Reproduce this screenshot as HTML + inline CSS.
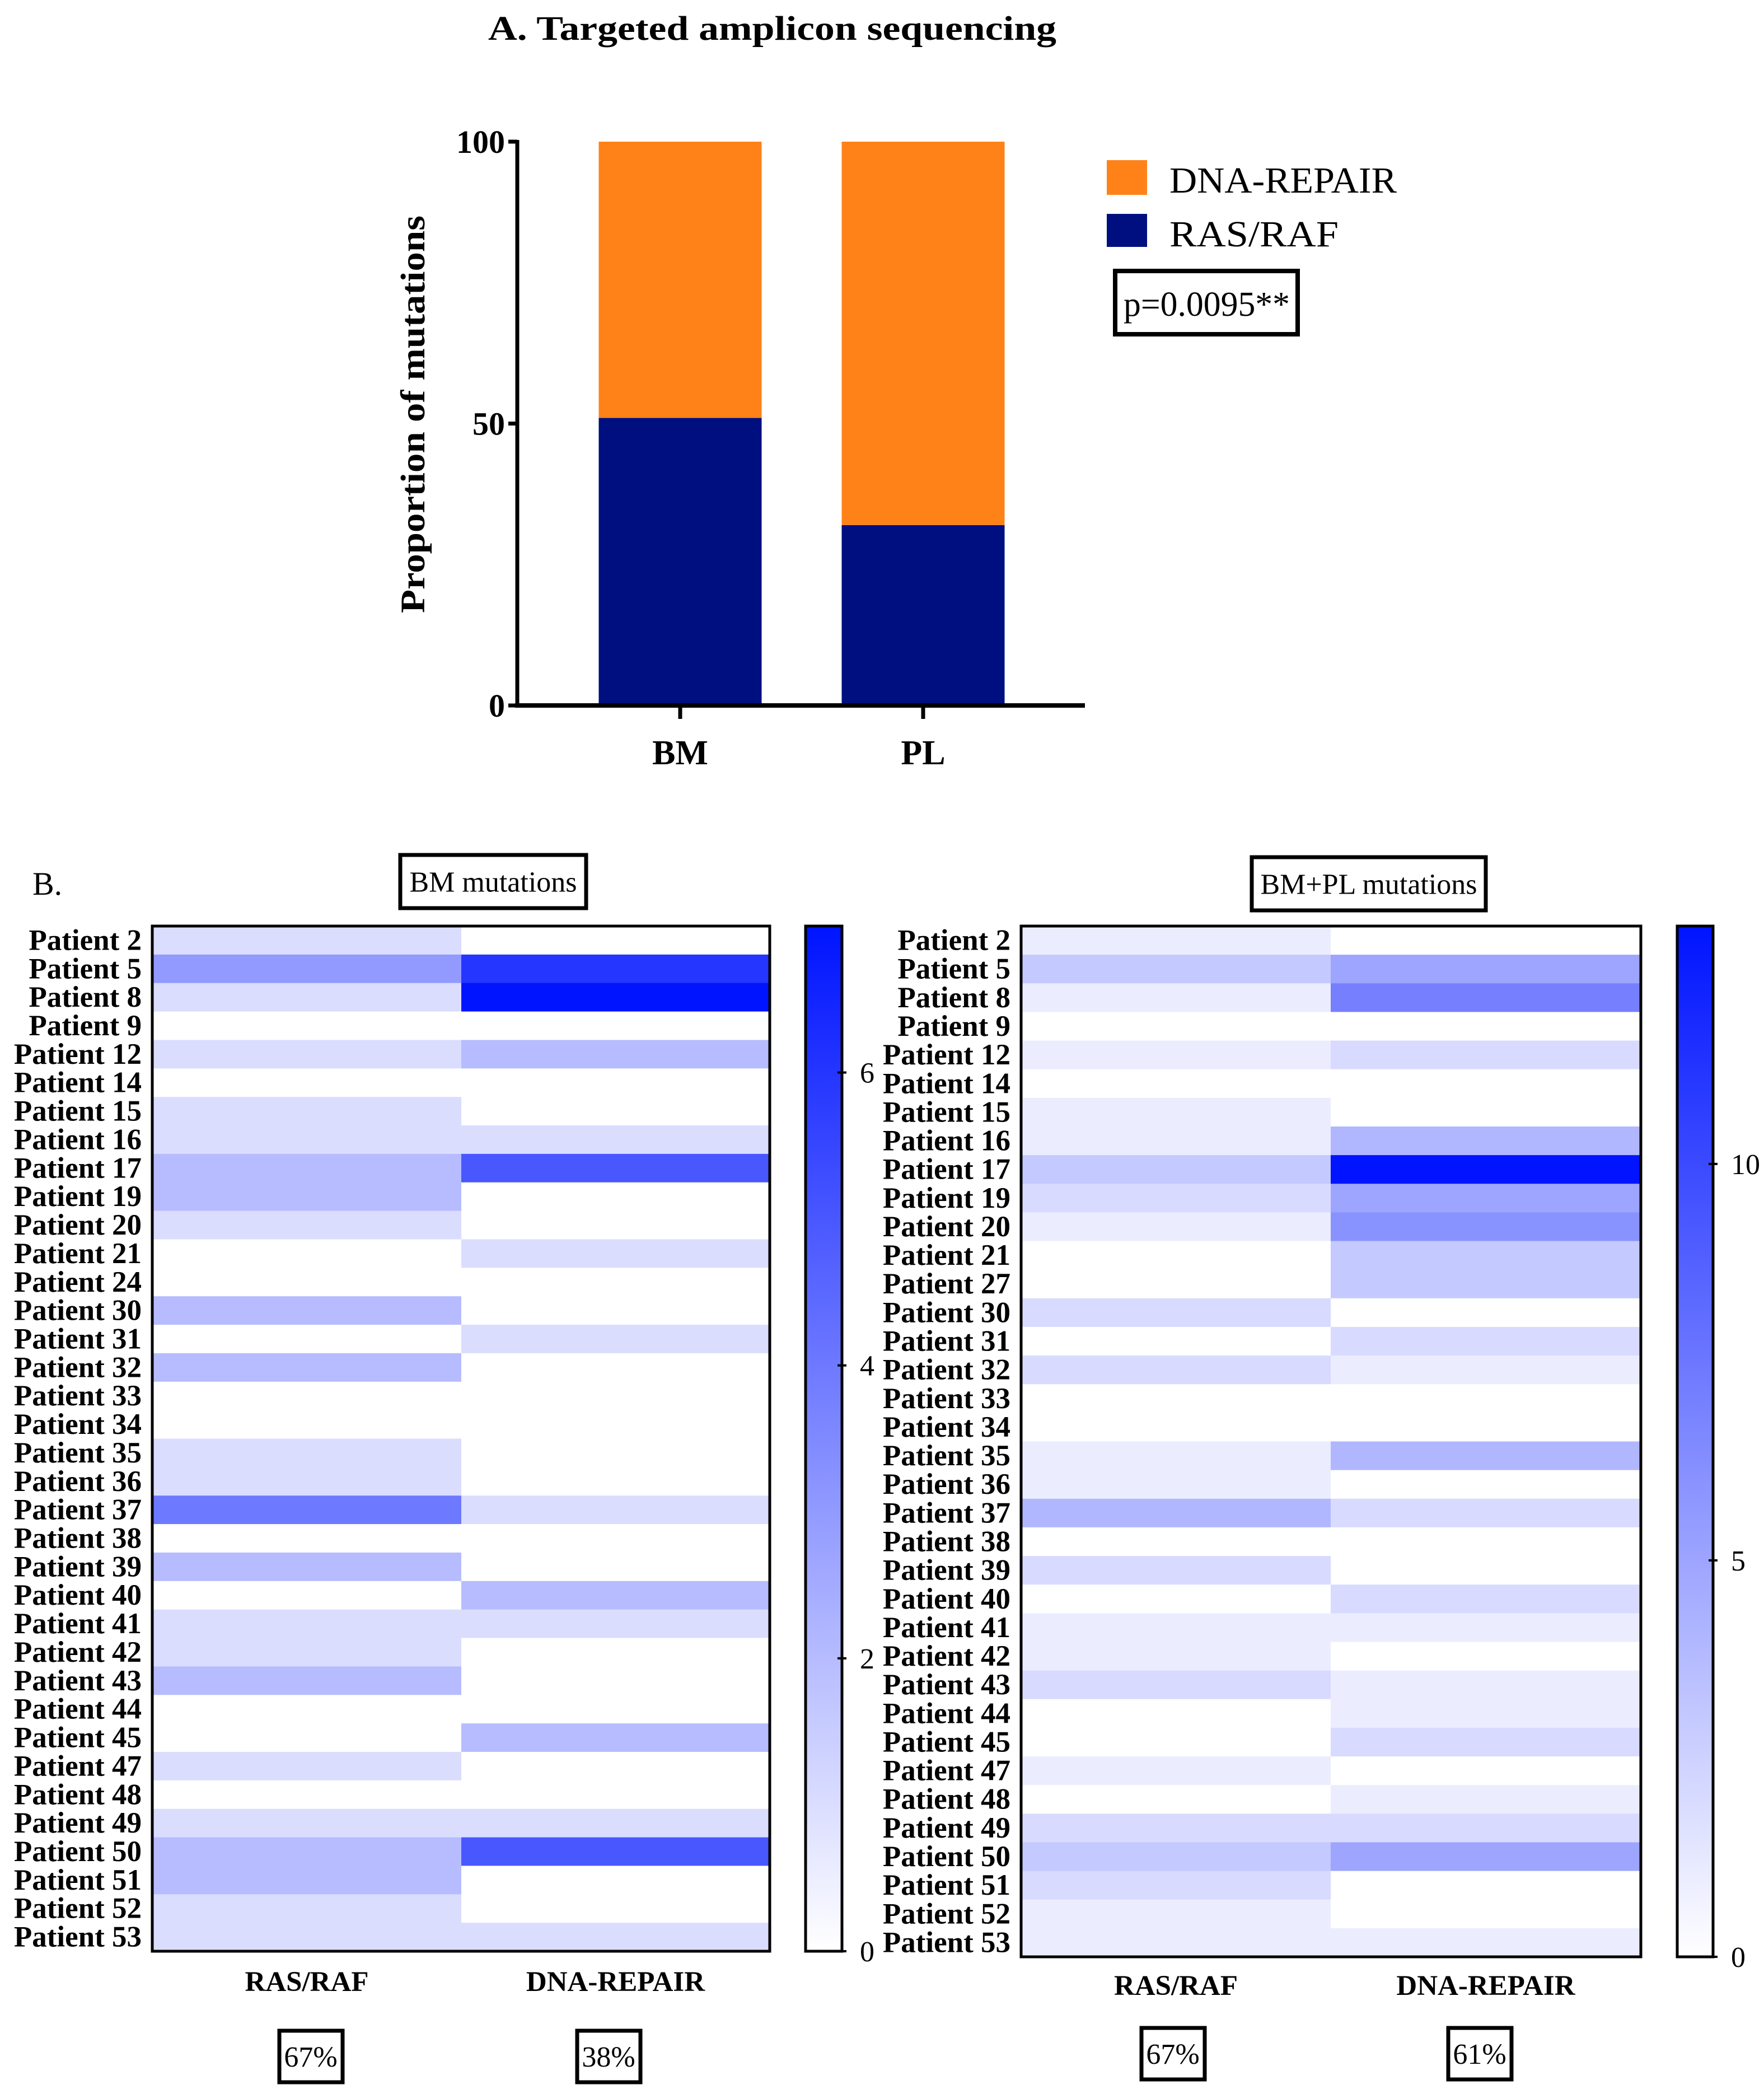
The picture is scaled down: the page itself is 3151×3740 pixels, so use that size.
<!DOCTYPE html>
<html><head><meta charset="utf-8"><style>
html,body{margin:0;padding:0;background:#fff}
svg{display:block}
text{font-family:"Liberation Serif",serif}
</style></head><body>
<svg id="fig" width="3151" height="3740" viewBox="0 0 3151 3740" xmlns="http://www.w3.org/2000/svg">
<g id="partA">
<text x="872" y="71" font-size="61" font-weight="bold" textLength="1015" lengthAdjust="spacingAndGlyphs">A.   Targeted amplicon sequencing</text>
<text transform="translate(758,740) rotate(-90)" text-anchor="middle" font-size="61" font-weight="bold" textLength="710" lengthAdjust="spacingAndGlyphs">Proportion of mutations</text>
<g id="barsA"></g>
<g id="axesA"></g>
<rect x="1977" y="286" width="72" height="62" fill="#ff8219"/>
<text x="2089" y="344" font-size="66" textLength="406" lengthAdjust="spacingAndGlyphs">DNA-REPAIR</text>
<rect x="1977" y="382" width="72" height="59" fill="#000f7f"/>
<text x="2089" y="440" font-size="66" textLength="302" lengthAdjust="spacingAndGlyphs">RAS/RAF</text>
<rect x="1992" y="484" width="326" height="113" fill="none" stroke="#000" stroke-width="8"/>
<text x="2007" y="564" font-size="62" textLength="297" lengthAdjust="spacingAndGlyphs">p=0.0095**</text>
</g>
<text x="58" y="1598" font-size="58">B.</text>
<g id="hmL"></g>
<g id="hmR"></g>
</svg>
<script>
const NS="http://www.w3.org/2000/svg";
function mk(tag,attrs,parent,txt){const e=document.createElementNS(NS,tag);for(const k in attrs)e.setAttribute(k,attrs[k]);if(txt!==undefined)e.textContent=txt;parent.appendChild(e);return e;}

// ---- Part A data ----
const barCategories=["BM","PL"];
const rasRafPct=[51,32];
const dnaRepairPct=[49,68];
const yTicks=[0,50,100];

// ---- Heatmap data ----
const patientsBM=[2,5,8,9,12,14,15,16,17,19,20,21,24,30,31,32,33,34,35,36,37,38,39,40,41,42,43,44,45,47,48,49,50,51,52,53];
const bmRasRaf=[1,3,1,0,1,0,1,1,2,2,1,0,0,2,0,2,0,0,1,1,4,0,2,0,1,1,2,0,0,1,0,1,2,2,1,1];
const bmDnaRepair=[0,6,7,0,2,0,0,1,5,0,0,1,0,0,1,0,0,0,0,0,1,0,0,2,1,0,0,0,2,0,0,1,5,0,0,1];
const bmTicks=[0,2,4,6];
const patientsAll=[2,5,8,9,12,14,15,16,17,19,20,21,27,30,31,32,33,34,35,36,37,38,39,40,41,42,43,44,45,47,48,49,50,51,52,53];
const allRasRaf=[1,3,1,0,1,0,1,1,3,2,1,0,0,2,0,2,0,0,1,1,4,0,2,0,1,1,2,0,0,1,0,2,3,2,1,1];
const allDnaRepair=[0,5,7,0,2,0,0,4,13,5,6,3,3,0,2,1,0,0,4,0,2,0,0,2,1,0,1,1,2,0,1,2,5,0,0,1];
const allTicks=[0,5,10];
const columnLabels=["RAS/RAF","DNA-REPAIR"];

// ---- Part A draw ----
(function(){
  const g=document.getElementById('barsA'), ax=document.getElementById('axesA');
  const x0=924,x1=1938,yb=1260,yt=253;
  const y=v=>yb-(v/100)*(yb-yt);
  const centers=[1215,1649], bw=291;
  barCategories.forEach((c,i)=>{
    const r1=mk('rect',{x:centers[i]-bw/2,y:y(rasRafPct[i]),width:bw,height:yb-y(rasRafPct[i]),fill:'#000f7f'},g);
    
    
    const top=rasRafPct[i]+dnaRepairPct[i];
    const r2=mk('rect',{x:centers[i]-bw/2,y:y(top),width:bw,height:y(rasRafPct[i])-y(top),fill:'#ff8219'},g);
    
    
    const tk=mk('line',{x1:centers[i],x2:centers[i],y1:yb,y2:yb+24,stroke:'#000','stroke-width':7},ax);
    
    
    const lb=mk('text',{x:centers[i],y:1365,'text-anchor':'middle','font-size':62,'font-weight':'bold'},ax,c);
    
    
  });
  const ya=mk('line',{x1:x0,x2:x0,y1:yt-3,y2:yb+4,stroke:'#000','stroke-width':7},ax);
  
  
  const xa=mk('line',{x1:x0-4,x2:x1,y1:yb,y2:yb,stroke:'#000','stroke-width':8},ax);
  
  
  yTicks.forEach(t=>{
    const l=mk('line',{x1:x0-16,x2:x0,y1:y(t),y2:y(t),stroke:'#000','stroke-width':7},ax);
    
    
    const tx=mk('text',{x:x0-22,y:y(t)+20,'text-anchor':'end','font-size':58,'font-weight':'bold'},ax,String(t));
    
    
  });
})();

// ---- heatmap draw ----
function col(v,max){const f=Math.min(1,v/max);const r=Math.round(255*(1-f));return `rgb(${r},${Math.round(255*(1-f)+20*f)},255)`;}
function heat(gid,cfg){
  const g=document.getElementById(gid);
  const {bx0,bx1,by0,by1,split,cbx0,cbx1,max,ticks,patients,cols,title,tbox,pcts,pbox,pboxY,colY}=cfg;
  const n=patients.length, rh=(by1-by0)/n;
  const xs=[[bx0,split],[split,bx1]];
  cols.forEach((arr,ci)=>{
    arr.forEach((v,ri)=>{
      const r=mk('rect',{x:xs[ci][0],y:by0+ri*rh,width:xs[ci][1]-xs[ci][0],height:rh+0.6,fill:col(v,max)},g);
      
      
    });
  });
  patients.forEach((p,ri)=>{
    const t=mk('text',{x:bx0-19,y:by0+ri*rh+rh/2+17,'text-anchor':'end','font-size':53,'font-weight':'bold'},g,'Patient '+p);
    
    
  });
  const b=mk('rect',{x:bx0,y:by0,width:bx1-bx0,height:by1-by0,fill:'none',stroke:'#000','stroke-width':5},g);
  
  
  columnLabels.forEach((c,ci)=>{
    const t=mk('text',{x:(xs[ci][0]+xs[ci][1])/2,y:colY,'text-anchor':'middle','font-size':51,'font-weight':'bold'},g,c);
    
    
    const pb=mk('rect',{x:pbox[ci]-56,y:pboxY,width:113,height:92,fill:'none',stroke:'#000','stroke-width':7},g);
    
    
    const pt=mk('text',{x:pbox[ci],y:pboxY+64,'text-anchor':'middle','font-size':52},g,pcts[ci]);
    
    
  });
  const tb=mk('rect',{x:tbox[0],y:tbox[1],width:tbox[2],height:tbox[3],fill:'none',stroke:'#000','stroke-width':7},g);
  
  
  const tt=mk('text',{x:tbox[0]+tbox[2]/2,y:tbox[1]+tbox[3]/2+18,'text-anchor':'middle','font-size':52},g,title);
  
  
  const gid2=gid+'grad';
  const defs=mk('defs',{},g);
  const lg=mk('linearGradient',{id:gid2,x1:0,y1:1,x2:0,y2:0},defs);
  mk('stop',{offset:0,'stop-color':'#ffffff'},lg);
  mk('stop',{offset:1,'stop-color':col(max,max)},lg);
  const cb=mk('rect',{x:cbx0,y:by0,width:cbx1-cbx0,height:by1-by0,fill:`url(#${gid2})`,stroke:'#000','stroke-width':5},g);
  
  
  ticks.forEach(t=>{
    const yy=by1-(t/max)*(by1-by0);
    const l=mk('line',{x1:cbx1-8,x2:cbx1+8,y1:yy,y2:yy,stroke:'#000','stroke-width':4},g);
    
    
    const tx=mk('text',{x:cbx1+32,y:yy+18,'font-size':52},g,String(t));
    
    
  });
}
heat('hmL',{bx0:272,bx1:1375,by0:1654,by1:3485,split:824,cbx0:1439,cbx1:1504,max:7,ticks:bmTicks,patients:patientsBM,cols:[bmRasRaf,bmDnaRepair],title:'BM mutations',tbox:[715,1527,332,95],pcts:['67%','38%'],pbox:[555,1087],pboxY:3627,colY:3556});
heat('hmR',{bx0:1824,bx1:2931,by0:1654,by1:3495,split:2377,cbx0:2996,cbx1:3060,max:13,ticks:allTicks,patients:patientsAll,cols:[allRasRaf,allDnaRepair],title:'BM+PL mutations',tbox:[2236,1531,418,95],pcts:['67%','61%'],pbox:[2095,2643],pboxY:3622,colY:3563});
</script>
</body></html>
